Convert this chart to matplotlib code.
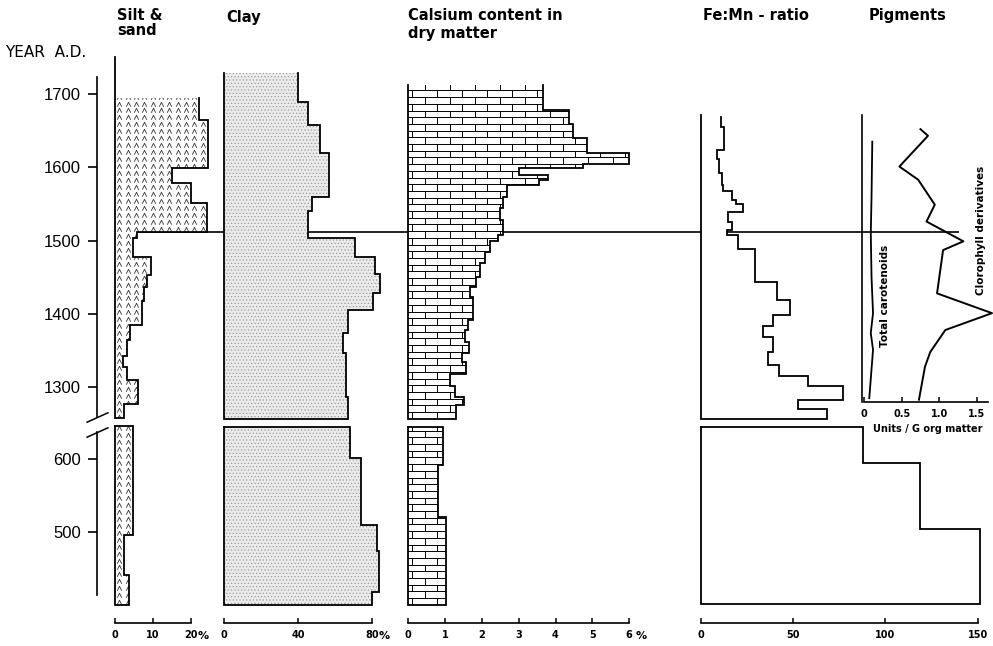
#Sediment core diagram - silt, clay, calcium, Fe:Mn, pigments
import numpy as np
import matplotlib
matplotlib.use('Agg')
import matplotlib.pyplot as plt
from matplotlib.path import Path
from matplotlib.collections import LineCollection

plt.rcParams['font.family'] = ['DejaVu Sans']
plt.rcParams['hatch.linewidth'] = 0.5
NARROW = ['Liberation Sans Narrow', 'Liberation Sans', 'DejaVu Sans']

#data (years A.D. are interval boundaries from top to bottom)
EVENT_YEAR = 1512

silt_up_years = [1694, 1665, 1599, 1578, 1551, 1512, 1503, 1478, 1453, 1437, 1417, 1385,
                 1364, 1343, 1328, 1310, 1277, 1258]
silt_up_pct = [22.1, 24.6, 14.9, 19.9, 24.3, 5.7, 4.8, 9.6, 8.3, 7.6, 7.0, 3.9, 3.1, 2.0,
               3.1, 6.0, 2.4]
silt_lo_years = [645, 496, 442, 401]
silt_lo_pct = [4.8, 2.4, 3.8]

clay_up_years = [1729, 1689, 1658, 1619, 1560, 1541, 1503, 1477, 1455, 1428, 1405, 1374,
                 1347, 1286, 1257]
clay_up_pct = [40.2, 45.2, 51.9, 56.9, 47.4, 45.6, 70.8, 81.6, 84.3, 80.7, 67.2, 64.5,
               66.0, 67.2]
clay_lo_years = [644, 601, 510, 474, 419, 401]
clay_lo_pct = [68.1, 73.9, 82.5, 84.0, 79.8]

ca_up_years = [1712, 1678, 1659, 1640, 1620, 1605, 1599, 1590, 1583, 1576, 1560, 1544,
               1528, 1508, 1499, 1485, 1469, 1451, 1437, 1423, 1392, 1378, 1362, 1346,
               1335, 1318, 1302, 1287, 1276, 1257]
ca_up_pct = [3.65, 4.37, 4.47, 4.86, 5.99, 4.74, 3.02, 3.80, 3.55, 2.67, 2.58, 2.49,
             2.56, 2.45, 2.22, 2.08, 1.95, 1.84, 1.68, 1.77, 1.63, 1.54, 1.66, 1.45,
             1.57, 1.13, 1.27, 1.52, 1.30]
ca_lo_years = [644, 592, 521, 401]
ca_lo_pct = [0.95, 0.82, 1.02]

femn_up_years = [1669, 1655, 1624, 1611, 1592, 1576, 1567, 1555, 1550, 1539, 1526, 1515,
                 1508, 1489, 1444, 1419, 1398, 1383, 1368, 1348, 1330, 1315, 1301, 1283,
                 1270, 1257]
femn_up = [10.8, 12.6, 9.0, 10.1, 11.4, 12.3, 16.8, 19.1, 23.1, 15.0, 16.8, 14.1, 20.4,
           29.4, 41.1, 48.3, 39.3, 33.9, 39.0, 36.6, 42.6, 58.3, 76.9, 52.8, 68.2]
femn_lo_years = [644, 594, 504, 402]
femn_lo = [87.7, 118.7, 151.2]

carot_years = [1635, 1560, 1510, 1450, 1401, 1374, 1351, 1285]
carot_units = [0.11, 0.10, 0.09, 0.10, 0.12, 0.09, 0.12, 0.07]
chloro_years = [1652, 1643, 1601, 1583, 1549, 1526, 1499, 1487, 1428, 1401, 1378, 1348,
                1328, 1283]
chloro_units = [0.75, 0.85, 0.47, 0.72, 0.94, 0.83, 1.32, 1.05, 0.97, 1.70, 1.08, 0.88,
                0.81, 0.73]

#layout (pixels)
W, H = 993, 646
fig = plt.figure(figsize=(W / 100, H / 100), dpi=100)
PX_YR = 0.733
UP_LIM = (1254, 1752)
LO_LIM = (376, 647)


def y_up(yr):
    return 72 + (1730 - yr) * PX_YR


def y_lo(yr):
    return 426 + (645 - yr) * PX_YR


def px_axes(x0, x1, y_top, y_bot):
    return fig.add_axes([x0 / W, 1 - y_bot / H, (x1 - x0) / W, (y_bot - y_top) / H])


def column(x0, x1, zero, scale, row):
    if row == 'up':
        lim, f = UP_LIM, y_up
    else:
        lim, f = LO_LIM, y_lo
    ax = px_axes(x0, x1, f(lim[1]), f(lim[0]))
    ax.set_xlim((x0 - zero) / scale, (x1 - zero) / scale)
    ax.set_ylim(lim)
    ax.set_facecolor('none')
    for s in ax.spines.values():
        s.set_visible(False)
    ax.set_xticks([])
    ax.set_yticks([])
    return ax


def draw_profile(ax, years, vals, closed_top, face='white', left_top=None, **kw):
    ys = np.repeat(years, 2)[1:-1]
    xs = np.repeat(vals, 2)
    poly = ax.fill(np.r_[0, xs, 0], np.r_[years[0], ys, years[-1]],
                   facecolor=face, zorder=2, **kw)[0]
    if closed_top:
        ox = np.r_[0, xs, 0, 0]
        oy = np.r_[years[0], ys, years[-1], years[0]]
    else:
        ox = np.r_[xs, 0, 0]
        oy = np.r_[ys, years[-1], left_top if left_top else years[0]]
    ax.plot(ox, oy, color='k', lw=1.3, zorder=4, solid_joinstyle='miter')
    return poly


def wedge_texture(ax, poly):
    wedge = Path([(-1, -1), (0, 1), (1, -1)], [Path.MOVETO, Path.LINETO, Path.LINETO])
    gx, gy = np.meshgrid(np.arange(1.1, 28, 2.2), np.arange(LO_LIM[0], UP_LIM[1], 9.5))
    ln, = ax.plot(gx.ravel(), gy.ravel(), ls='none', marker=wedge, ms=3.2, mfc='none',
                  mec='#333333', mew=0.6, zorder=3)
    ln.set_clip_path(poly)


def brick_texture(ax, poly, y0, y1, row_h=9.14, brick_w=0.68):
    x0, x1 = ax.get_xlim()
    rows = np.arange(y0, y1 + row_h, row_h)
    segs = [[(x0, r), (x1, r)] for r in rows]
    for i, r in enumerate(rows[:-1]):
        off = (i % 2) * brick_w / 2
        for xv in np.arange(x0 + 0.2 + off, x1, brick_w):
            segs.append([(xv, r), (xv, r + row_h)])
    lc = LineCollection(segs, colors='k', linewidths=0.7, zorder=3)
    ax.add_collection(lc, autolim=False)
    lc.set_clip_path(poly)


def scale_axis(ax, ticks, labels, unit=None):
    sp = ax.spines['bottom']
    sp.set_visible(True)
    sp.set_bounds(ticks[0], ticks[-1])
    sp.set_linewidth(1.2)
    ax.set_xticks(ticks, labels)
    ax.tick_params(axis='x', direction='in', length=3.5, width=1.1, pad=5, labelsize=7)
    for t in ax.get_xticklabels():
        t.set_fontweight('bold')
    if unit:
        ax.annotate(unit, xy=(ticks[-1], 0), xycoords=('data', 'axes fraction'),
                    xytext=(4.5, -9.5), textcoords='offset points', ha='left',
                    va='center', fontsize=8, fontweight='bold')


#year axis with break
yax_up = px_axes(97, 100, y_up(UP_LIM[1]), y_up(UP_LIM[0]))
yax_lo = px_axes(97, 100, y_lo(LO_LIM[1]), y_lo(LO_LIM[0]))
brk = [(-1, -0.45), (1, 0.45)]
for ax, lim, ticks, bounds, brk_y in [(yax_up, UP_LIM, [1300, 1400, 1500, 1600, 1700], (1260, 1723), 1260),
                                       (yax_lo, LO_LIM, [500, 600], (414, 637), 637)]:
    ax.set_ylim(lim)
    ax.set_facecolor('none')
    for s in ['top', 'right', 'bottom']:
        ax.spines[s].set_visible(False)
    ax.spines['left'].set_bounds(*bounds)
    ax.spines['left'].set_linewidth(1.2)
    ax.set_xticks([])
    ax.set_yticks(ticks, [str(t) for t in ticks])
    ax.tick_params(axis='y', direction='out', length=6.5, width=1.2, pad=5, labelsize=12)
    for t in ax.get_yticklabels():
        t.set_fontfamily(NARROW)
    ax.plot(0, brk_y, marker=brk, ms=16, mew=1.1, color='k', clip_on=False,
            transform=ax.get_yaxis_transform())

#silt & sand
ax = column(113, 218, 115, 3.8, 'up')
ax.hlines(EVENT_YEAR, 0, ax.get_xlim()[1], color='k', lw=1.2, zorder=1)
p = draw_profile(ax, silt_up_years, silt_up_pct, False, edgecolor='none', left_top=UP_LIM[1] - 2)
wedge_texture(ax, p)
ax = column(113, 218, 115, 3.8, 'lo')
p = draw_profile(ax, silt_lo_years, silt_lo_pct, True, edgecolor='none')
wedge_texture(ax, p)
scale_axis(ax, [0, 10, 20], ['0', '10', '20'], '%')

#clay
clay_kw = dict(face='#ebebeb', edgecolor='#9a9a9a', linewidth=0, hatch='.....')
ax = column(218, 405, 224, 1.85, 'up')
ax.axhline(EVENT_YEAR, color='k', lw=1.2, zorder=1)
draw_profile(ax, clay_up_years, clay_up_pct, False, **clay_kw)
ax = column(218, 405, 224, 1.85, 'lo')
draw_profile(ax, clay_lo_years, clay_lo_pct, True, **clay_kw)
scale_axis(ax, [0, 40, 80], ['0', '40', '80'], '%')

#calcium
ax = column(405, 695, 408.3, 36.8, 'up')
ax.axhline(EVENT_YEAR, color='k', lw=1.2, zorder=1)
p = draw_profile(ax, ca_up_years, ca_up_pct, False, edgecolor='none')
brick_texture(ax, p, ca_up_years[-1], ca_up_years[0])
ax = column(405, 695, 408.3, 36.8, 'lo')
p = draw_profile(ax, ca_lo_years, ca_lo_pct, True, edgecolor='none')
brick_texture(ax, p, ca_lo_years[-1], ca_lo_years[0])
scale_axis(ax, list(range(7)), [str(i) for i in range(7)], '%')

#Fe:Mn ratio
ax = column(695, 862, 700.7, 1.847, 'up')
ax.axhline(EVENT_YEAR, color='k', lw=1.2, zorder=1)
draw_profile(ax, femn_up_years, femn_up, False, edgecolor='none', left_top=1672)
ax = column(695, 993, 700.7, 1.847, 'lo')
draw_profile(ax, femn_lo_years, femn_lo, True, edgecolor='none')
scale_axis(ax, [0, 50, 100, 150], ['0', '50', '100', '150'])

#pigments
ax = column(862, 993, 864, 75.3, 'up')
ax.hlines(EVENT_YEAR, ax.get_xlim()[0], 1.26, color='k', lw=1.2, zorder=1)
ax.plot(carot_units, carot_years, color='k', lw=1.3)
ax.plot(chloro_units, chloro_years, color='k', lw=1.4)
ax.spines['left'].set_visible(True)
ax.spines['left'].set_bounds(1280, 1672)
ax.spines['left'].set_linewidth(1.2)
ax.spines['bottom'].set_position(('data', 1280))
scale_axis(ax, [0, 0.5, 1.0, 1.5], ['0', '0.5', '1.0', '1.5'])
ax.spines['bottom'].set_bounds(0, 1.65)
ax.set_xlabel('Units / G org matter', fontsize=7, fontweight='bold', labelpad=4)
ax.text(0.28, 1424, 'Total carotenoids', rotation=90, ha='center', va='center',
        fontsize=7.5, fontweight='bold')
ax.text(1.55, 1514, 'Clorophyll derivatives', rotation=90, ha='center', va='center',
        fontsize=7.5, fontweight='bold')

#titles
def ftext(x, y, s, **kw):
    fig.text(x / W, 1 - y / H, s, va='top', ha='left', **kw)

title_kw = dict(fontsize=10.5, fontweight='bold')
ftext(117, 8, 'Silt &\nsand', linespacing=1.0, **title_kw)
ftext(226, 10, 'Clay', **title_kw)
ftext(408, 7.5, 'Calsium content in\ndry matter', linespacing=1.3, **title_kw)
ftext(703, 8, 'Fe:Mn - ratio', **title_kw)
ftext(869, 8, 'Pigments', **title_kw)
ftext(5, 45, 'YEAR  A.D.', fontsize=11)

plt.savefig('out.png', dpi=100)
